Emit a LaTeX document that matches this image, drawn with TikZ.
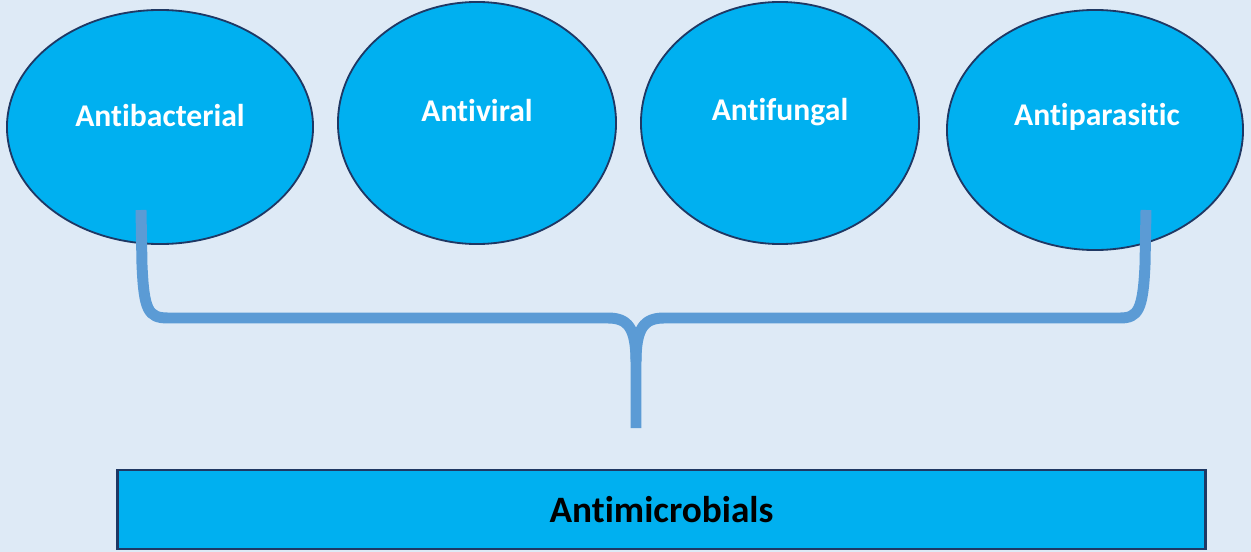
\documentclass[tikz,border=0pt]{standalone}
\usepackage{fontspec}
\setmainfont{Carlito}[Ligatures=NoCommon]
\usepackage{tikz}
\usetikzlibrary{shapes.geometric}
\definecolor{bgblue}{HTML}{DEEAF6}
\definecolor{skyfill}{HTML}{00B0F0}
\definecolor{navyline}{HTML}{1F3864}
\definecolor{bracecol}{HTML}{5B9BD5}

\begin{document}
\begin{tikzpicture}[x=0.025cm, y=-0.025cm,
  blob/.style={ellipse, draw=navyline, line width=1.3pt, fill=skyfill, inner sep=0pt},
  blobtext/.style={text=white, font=\fontsize{22.5}{26}\selectfont\bfseries},
  bar/.style={rectangle, draw=navyline, line width=2pt, fill=skyfill, inner sep=0pt, font=\fontsize{26.5}{30}\selectfont\bfseries},
  brace/.style={draw=bracecol, line width=7.8pt}]
\fill[bgblue] (0,0) rectangle (1251,552);
\useasboundingbox (0,0) rectangle (1251,552);
\node[blob, minimum width=7.65cm, minimum height=5.85cm] (ab) at (160,127) {};
\node[blob, minimum width=6.95cm, minimum height=6.05cm] (av) at (477,123) {};
\node[blob, minimum width=6.95cm, minimum height=6.05cm] (af) at (780,123) {};
\node[blob, minimum width=7.4cm, minimum height=6.0cm] (ap) at (1095,130) {};
\node[blobtext] (abt) at (160,116) {Antibacterial};
\node[blobtext] (avt) at (477,111) {Antiviral};
\node[blobtext] (aft) at (780,112) {Antifungal};
\node[blobtext] (apt) at (1097,117) {Antiparasitic};
\node[bar, minimum width=27.175cm, minimum height=1.975cm] (am) at (661.5,509.5) {Antimicrobials};
% brace joining the four classes
\coordinate (lt) at (141,210);
\coordinate (rt) at (1146,210);
\coordinate (mid) at (636,428);
\draw[brace] (lt) -- (142,265) .. controls (144,310) and (148,318) .. (168,318)
  -- (608,318) .. controls (628,318) and (636,328) .. (636,362) -- (mid);
\draw[brace] (rt) -- (1145,265) .. controls (1143,310) and (1138,318) .. (1120,318)
  -- (664,318) .. controls (644,318) and (636,328) .. (636,362);
\end{tikzpicture}
\end{document}
